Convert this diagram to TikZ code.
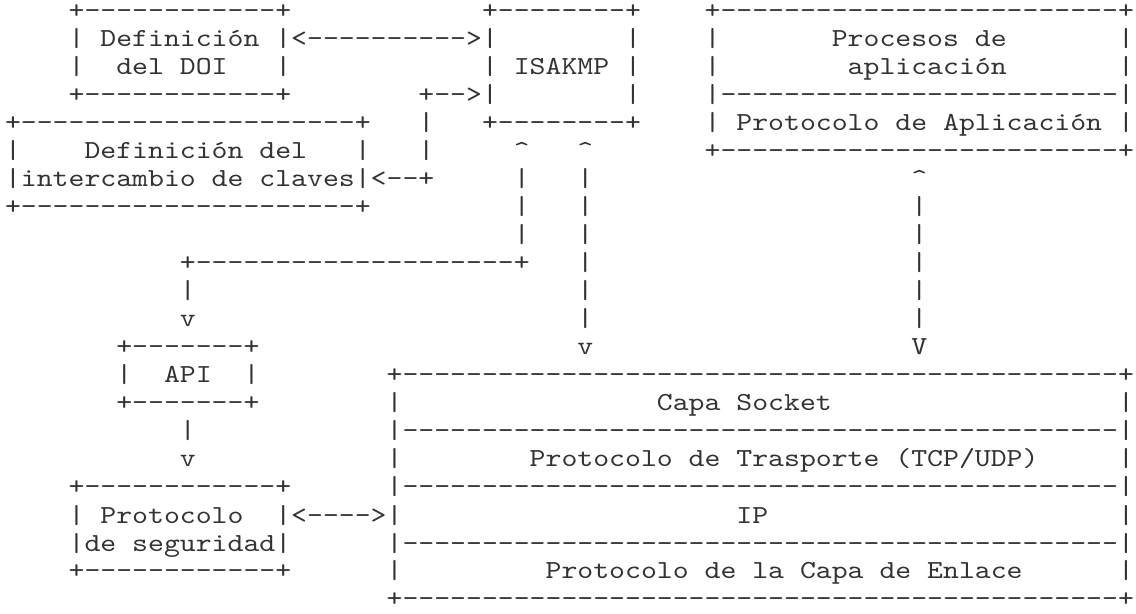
\documentclass[tikz,border=0pt]{standalone}
\usepackage{fontspec}
\setmonofont{lmmono10-regular.otf}[FakeStretch=1.16484]
\usepackage{tikz}
\def\charsep{7.95pt}
\def\linesep{14pt}
\newcommand{\dashrun}[1]{\foreach \k in {1,...,#1}{-}}

\begin{document}
\begin{tikzpicture}[x=\charsep, y=-\linesep]
	\tikzstyle{ascii}=[anchor=base west, inner sep=0pt, outer sep=0pt, text=black!80,
		font=\ttfamily\fontsize{13pt}{14pt}\selectfont]

	% Page
	\path[fill=white] (-2.5pt,-4.5pt) rectangle (565.5pt,-311.5pt);
	\useasboundingbox (-2.5pt,-4.5pt) rectangle (565.5pt,-311.5pt);

	% Draw DOI box
	\foreach \row/\col/\txt in {1/4/{+\dashrun{12}+}, 2/4/{| Definición |}, 3/4/|, 3/7/{del DOI},
		3/17/|, 4/4/{+\dashrun{12}+}}
	\node[ascii] (doi-\row-\col) at (\col,\row) {\txt};

	% Draw ISAKMP box
	\foreach \row/\col/\txt in {1/30/{+\dashrun{8}+}, 2/30/|, 2/39/|, 3/30/{| ISAKMP |}, 4/30/|,
		4/39/|, 5/30/{+\dashrun{8}+}}
	\node[ascii] (isakmp-\row-\col) at (\col,\row) {\txt};

	% Draw application box
	\foreach \row/\col/\txt in {1/44/{+\dashrun{25}+}, 2/44/|, 2/52/{Procesos de}, 2/70/|, 3/44/|,
		3/53/{aplicación}, 3/70/|, 4/44/{|\dashrun{25}|}, 5/44/{| Protocolo de Aplicación |},
		6/44/{+\dashrun{25}+}}
	\node[ascii] (app-\row-\col) at (\col,\row) {\txt};

	% Draw key exchange box
	\foreach \row/\col/\txt in {5/0/{+\dashrun{21}+}, 6/0/|, 6/5/{Definición del}, 6/22/|,
		7/0/{|intercambio de claves|}, 8/0/{+\dashrun{21}+}}
	\node[ascii] (key-\row-\col) at (\col,\row) {\txt};

	% Draw API box
	\foreach \row/\col/\txt in {13/7/{+\dashrun{7}+}, 14/7/|, 14/10/API, 14/15/|, 15/7/{+\dashrun{7}+}}
	\node[ascii] (api-\row-\col) at (\col,\row) {\txt};

	% Draw security protocol box
	\foreach \row/\col/\txt in {18/4/{+\dashrun{12}+}, 19/4/{| Protocolo}, 19/17/|,
		20/4/{|de seguridad|}, 21/4/{+\dashrun{12}+}}
	\node[ascii] (sec-\row-\col) at (\col,\row) {\txt};

	% Draw stack box
	\foreach \row/\col/\txt in {14/24/{+\dashrun{45}+}, 15/41/{Capa Socket}, 16/24/{|\dashrun{45}|},
		17/33/{Protocolo de Trasporte (TCP/UDP)}, 18/24/{|\dashrun{45}|}, 19/46/IP,
		20/24/{|\dashrun{45}|}, 21/34/{Protocolo de la Capa de Enlace}, 22/24/{+\dashrun{45}+}}
	\node[ascii] (stack-\row-\col) at (\col,\row) {\txt};
	\foreach \row in {15,17,19,21}
	\foreach \col in {24,70}
	\node[ascii] (stack-\row-\col) at (\col,\row) {|};

	% Connect DOI and ISAKMP
	\node[ascii] (doi-isakmp) at (18,2) {<---------->};

	% Connect key exchange and ISAKMP
	\foreach \row/\col/\txt in {4/26/{+-->}, 5/26/|, 6/26/|, 7/23/{<--+}}
	\node[ascii] (key-isakmp-\row) at (\col,\row) {\txt};

	% Connect ISAKMP and API
	\node[ascii] (isakmp-api-6) at (32,6) {\textasciicircum};
	\foreach \row in {7,...,9}
	\node[ascii] (isakmp-api-\row) at (32,\row) {|};
	\node[ascii] (isakmp-api-10) at (11,10) {+\dashrun{20}+};
	\node[ascii] (isakmp-api-11) at (11,11) {|};
	\node[ascii] (isakmp-api-12) at (11,12) {v};

	% Connect ISAKMP and stack
	\node[ascii] (isakmp-stack-6) at (36,6) {\textasciicircum};
	\foreach \row in {7,...,12}
	\node[ascii] (isakmp-stack-\row) at (36,\row) {|};
	\node[ascii] (isakmp-stack-13) at (36,13) {v};

	% Connect application and stack
	\node[ascii] (app-stack-7) at (57,7) {\textasciicircum};
	\foreach \row in {8,...,12}
	\node[ascii] (app-stack-\row) at (57,\row) {|};
	\node[ascii] (app-stack-13) at (57,13) {V};

	% Connect API and security
	\node[ascii] (api-sec-16) at (11,16) {|};
	\node[ascii] (api-sec-17) at (11,17) {v};

	% Connect security and stack
	\node[ascii] (sec-stack) at (18,19) {<---->};
\end{tikzpicture}
\end{document}
